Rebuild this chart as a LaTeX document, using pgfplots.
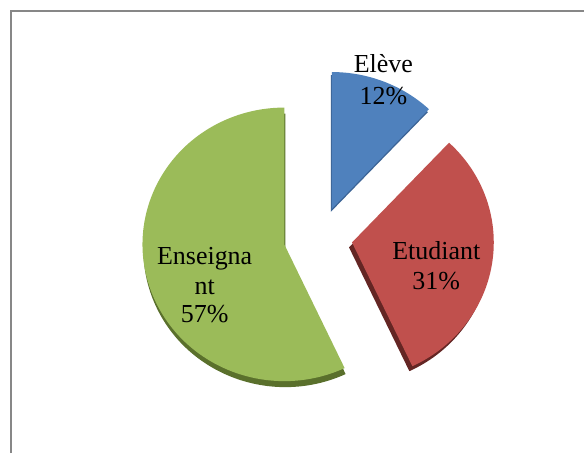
\documentclass[border=0pt]{standalone}
\usepackage{pgfplots}
\pgfplotsset{compat=1.18}
\usepackage{fontspec}
\setmainfont{Liberation Serif}

\definecolor{cBlue}{RGB}{79,129,189}
\definecolor{cRed}{RGB}{192,80,77}
\definecolor{cGreen}{RGB}{155,187,89}
\definecolor{dBlue}{RGB}{60,100,150}
\definecolor{dRed}{RGB}{100,38,36}
\definecolor{dGreen}{RGB}{90,112,44}

% shares in percent
\def\pA{12}  % Elève
\def\pB{31}  % Etudiant
\def\pC{57}  % Enseignant

% pie centre, explosion, radii
\def\cx{315}\def\cy{216}\def\ex{31}
\def\rx{142pt}\def\ry{137pt}

\pgfmathsetmacro\aA{90}
\pgfmathsetmacro\aB{\aA-3.6*\pA}
\pgfmathsetmacro\aC{\aB-3.6*\pB}
\pgfmathsetmacro\aD{\aC-3.6*\pC}
\pgfmathsetmacro\vxA{\cx+6+\ex*cos((\aA+\aB)/2)}
\pgfmathsetmacro\vyA{\cy+\ex*sin((\aA+\aB)/2)}
\pgfmathsetmacro\vxB{\cx+7+\ex*cos((\aB+\aC)/2)}
\pgfmathsetmacro\vyB{\cy+\ex*sin((\aB+\aC)/2)}
\pgfmathsetmacro\vxC{\cx+\ex*cos((\aC+\aD)/2)}
\pgfmathsetmacro\vyC{\cy+\ex*sin((\aC+\aD)/2)}

\newcommand\slice[5]{% vx vy start end style
  \fill[#5] (axis cs:#1,#2) -- ++(#3:\rx\space and \ry)
    arc[start angle=#3, end angle=#4, x radius=\rx, y radius=\ry] -- cycle;}

\begin{document}
\begin{tikzpicture}
\begin{axis}[width=585pt, height=454pt, scale only axis,
  xmin=0, xmax=585, ymin=0, ymax=454, hide axis, clip=false]
  \path (axis cs:0,0) rectangle (axis cs:585,454);
  % frame
  \draw[color=black!47, line width=2pt] (axis cs:11.5,0) -- (axis cs:11.5,442.5) -- (axis cs:585,442.5);
  % 3-D edges
  \slice{\vxA-1}{\vyA-3}{\aA}{\aB}{dBlue}
  \slice{\vxB-3}{\vyB-5}{\aB}{\aC}{dRed}
  \slice{\vxC+1}{\vyC-6}{\aC}{\aD}{dGreen}
  % tops
  \slice{\vxA}{\vyA}{\aA}{\aB}{cBlue}
  \slice{\vxB}{\vyB}{\aB}{\aC}{cRed}
  \slice{\vxC}{\vyC}{\aC}{\aD}{cGreen}
  % labels
  \begin{scope}[every node/.style={anchor=base, font=\fontsize{26}{30}\selectfont, inner sep=0pt}]
    \node at (axis cs:384,381) {Elève};
    \node at (axis cs:384,349) {12\%};
    \node at (axis cs:437,194) {Etudiant};
    \node at (axis cs:437,164) {31\%};
    \node at (axis cs:205,189) {Enseigna};
    \node at (axis cs:205,159) {nt};
    \node at (axis cs:205,131) {57\%};
  \end{scope}
\end{axis}
\end{tikzpicture}
\end{document}
